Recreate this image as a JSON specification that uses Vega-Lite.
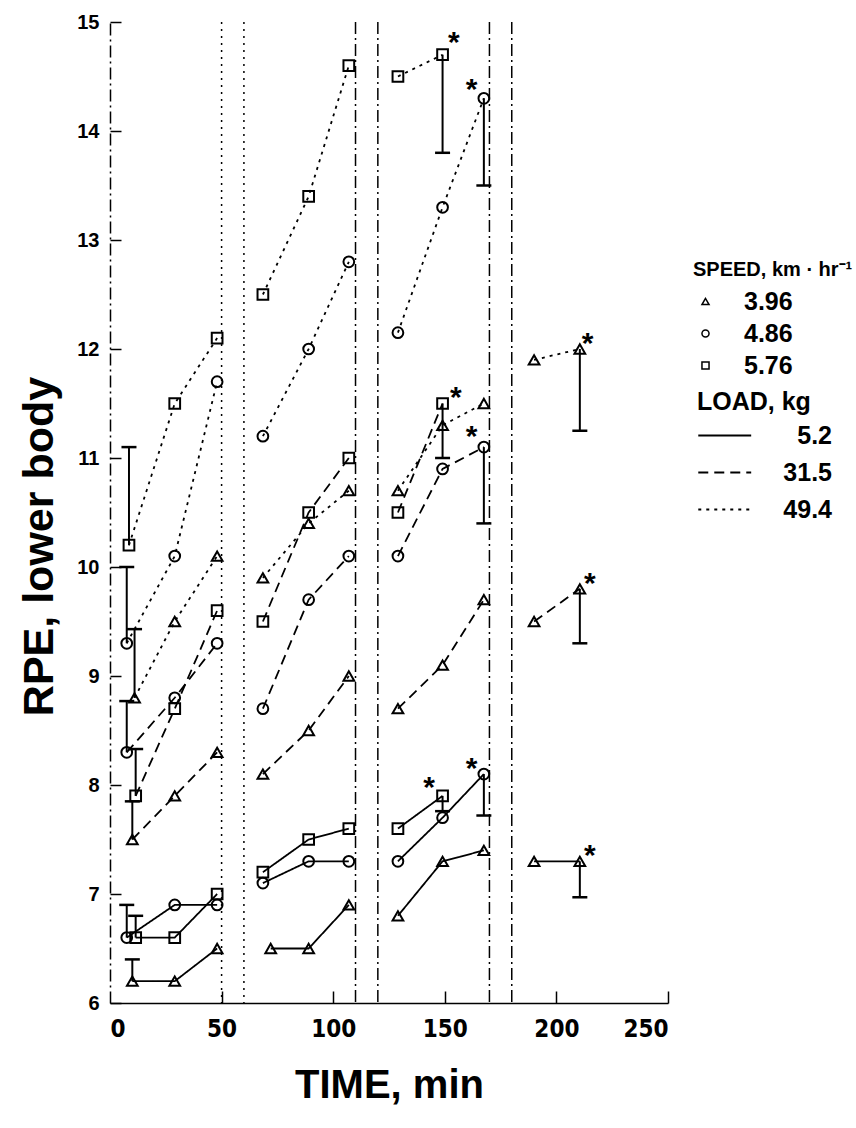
{
  "$schema": "https://vega.github.io/schema/vega-lite/v6.json",
  "width": 558,
  "height": 981,
  "autosize": {"type": "none"},
  "padding": {"left": 110, "top": 22, "right": 188, "bottom": 125},
  "background": "white",
  "config": {
    "view": {"stroke": null},
    "axis": {"grid": false, "domainColor": "black", "tickColor": "black", "labelColor": "black", "titleColor": "black"}
  },
  "resolve": {"axis": {"x": "independent", "y": "independent"}},
  "datasets": {
    "pts": [
      {"speed":"3.96","load":"5.2","bout":1,"t":10,"rpe":6.2},{"speed":"3.96","load":"5.2","bout":1,"t":29,"rpe":6.2},{"speed":"3.96","load":"5.2","bout":1,"t":48,"rpe":6.5},
      {"speed":"4.86","load":"5.2","bout":1,"t":7.5,"rpe":6.6},{"speed":"4.86","load":"5.2","bout":1,"t":29,"rpe":6.9},{"speed":"4.86","load":"5.2","bout":1,"t":48,"rpe":6.9},
      {"speed":"5.76","load":"5.2","bout":1,"t":11.5,"rpe":6.6},{"speed":"5.76","load":"5.2","bout":1,"t":29,"rpe":6.6},{"speed":"5.76","load":"5.2","bout":1,"t":48,"rpe":7.0},
      {"speed":"3.96","load":"5.2","bout":2,"t":72,"rpe":6.5},{"speed":"3.96","load":"5.2","bout":2,"t":89,"rpe":6.5},{"speed":"3.96","load":"5.2","bout":2,"t":107,"rpe":6.9},
      {"speed":"4.86","load":"5.2","bout":2,"t":68.5,"rpe":7.1},{"speed":"4.86","load":"5.2","bout":2,"t":89,"rpe":7.3},{"speed":"4.86","load":"5.2","bout":2,"t":107,"rpe":7.3},
      {"speed":"5.76","load":"5.2","bout":2,"t":68.5,"rpe":7.2},{"speed":"5.76","load":"5.2","bout":2,"t":89,"rpe":7.5},{"speed":"5.76","load":"5.2","bout":2,"t":107,"rpe":7.6},
      {"speed":"3.96","load":"5.2","bout":3,"t":129,"rpe":6.8},{"speed":"3.96","load":"5.2","bout":3,"t":149,"rpe":7.3},{"speed":"3.96","load":"5.2","bout":3,"t":167.5,"rpe":7.4},
      {"speed":"4.86","load":"5.2","bout":3,"t":129,"rpe":7.3},{"speed":"4.86","load":"5.2","bout":3,"t":149,"rpe":7.7},{"speed":"4.86","load":"5.2","bout":3,"t":167.5,"rpe":8.1},
      {"speed":"5.76","load":"5.2","bout":3,"t":129,"rpe":7.6},{"speed":"5.76","load":"5.2","bout":3,"t":149,"rpe":7.9},
      {"speed":"3.96","load":"5.2","bout":4,"t":190,"rpe":7.3},{"speed":"3.96","load":"5.2","bout":4,"t":210.5,"rpe":7.3},

      {"speed":"3.96","load":"31.5","bout":1,"t":10,"rpe":7.5},{"speed":"3.96","load":"31.5","bout":1,"t":29,"rpe":7.9},{"speed":"3.96","load":"31.5","bout":1,"t":48,"rpe":8.3},
      {"speed":"4.86","load":"31.5","bout":1,"t":7.5,"rpe":8.3},{"speed":"4.86","load":"31.5","bout":1,"t":29,"rpe":8.8},{"speed":"4.86","load":"31.5","bout":1,"t":48,"rpe":9.3},
      {"speed":"5.76","load":"31.5","bout":1,"t":11.5,"rpe":7.9},{"speed":"5.76","load":"31.5","bout":1,"t":29,"rpe":8.7},{"speed":"5.76","load":"31.5","bout":1,"t":48,"rpe":9.6},
      {"speed":"3.96","load":"31.5","bout":2,"t":68.5,"rpe":8.1},{"speed":"3.96","load":"31.5","bout":2,"t":89,"rpe":8.5},{"speed":"3.96","load":"31.5","bout":2,"t":107,"rpe":9.0},
      {"speed":"4.86","load":"31.5","bout":2,"t":68.5,"rpe":8.7},{"speed":"4.86","load":"31.5","bout":2,"t":89,"rpe":9.7},{"speed":"4.86","load":"31.5","bout":2,"t":107,"rpe":10.1},
      {"speed":"5.76","load":"31.5","bout":2,"t":68.5,"rpe":9.5},{"speed":"5.76","load":"31.5","bout":2,"t":89,"rpe":10.5},{"speed":"5.76","load":"31.5","bout":2,"t":107,"rpe":11.0},
      {"speed":"3.96","load":"31.5","bout":3,"t":129,"rpe":8.7},{"speed":"3.96","load":"31.5","bout":3,"t":149,"rpe":9.1},{"speed":"3.96","load":"31.5","bout":3,"t":167.5,"rpe":9.7},
      {"speed":"4.86","load":"31.5","bout":3,"t":129,"rpe":10.1},{"speed":"4.86","load":"31.5","bout":3,"t":149,"rpe":10.9},{"speed":"4.86","load":"31.5","bout":3,"t":167.5,"rpe":11.1},
      {"speed":"5.76","load":"31.5","bout":3,"t":129,"rpe":10.5},{"speed":"5.76","load":"31.5","bout":3,"t":149,"rpe":11.5},
      {"speed":"3.96","load":"31.5","bout":4,"t":190,"rpe":9.5},{"speed":"3.96","load":"31.5","bout":4,"t":210.5,"rpe":9.8},

      {"speed":"3.96","load":"49.4","bout":1,"t":11,"rpe":8.8},{"speed":"3.96","load":"49.4","bout":1,"t":29,"rpe":9.5},{"speed":"3.96","load":"49.4","bout":1,"t":48,"rpe":10.1},
      {"speed":"4.86","load":"49.4","bout":1,"t":7.5,"rpe":9.3},{"speed":"4.86","load":"49.4","bout":1,"t":29,"rpe":10.1},{"speed":"4.86","load":"49.4","bout":1,"t":48,"rpe":11.7},
      {"speed":"5.76","load":"49.4","bout":1,"t":8.5,"rpe":10.2},{"speed":"5.76","load":"49.4","bout":1,"t":29,"rpe":11.5},{"speed":"5.76","load":"49.4","bout":1,"t":48,"rpe":12.1},
      {"speed":"3.96","load":"49.4","bout":2,"t":68.5,"rpe":9.9},{"speed":"3.96","load":"49.4","bout":2,"t":89,"rpe":10.4},{"speed":"3.96","load":"49.4","bout":2,"t":107,"rpe":10.7},
      {"speed":"4.86","load":"49.4","bout":2,"t":68.5,"rpe":11.2},{"speed":"4.86","load":"49.4","bout":2,"t":89,"rpe":12.0},{"speed":"4.86","load":"49.4","bout":2,"t":107,"rpe":12.8},
      {"speed":"5.76","load":"49.4","bout":2,"t":68.5,"rpe":12.5},{"speed":"5.76","load":"49.4","bout":2,"t":89,"rpe":13.4},{"speed":"5.76","load":"49.4","bout":2,"t":107,"rpe":14.6},
      {"speed":"3.96","load":"49.4","bout":3,"t":129,"rpe":10.7},{"speed":"3.96","load":"49.4","bout":3,"t":149,"rpe":11.3},{"speed":"3.96","load":"49.4","bout":3,"t":167.5,"rpe":11.5},
      {"speed":"4.86","load":"49.4","bout":3,"t":129,"rpe":12.15},{"speed":"4.86","load":"49.4","bout":3,"t":149,"rpe":13.3},{"speed":"4.86","load":"49.4","bout":3,"t":167.5,"rpe":14.3},
      {"speed":"5.76","load":"49.4","bout":3,"t":129,"rpe":14.5},{"speed":"5.76","load":"49.4","bout":3,"t":149,"rpe":14.7},
      {"speed":"3.96","load":"49.4","bout":4,"t":190,"rpe":11.9},{"speed":"3.96","load":"49.4","bout":4,"t":210.5,"rpe":12.0}
    ],
    "errs": [
      {"speed":"3.96","load":"5.2","t":10,"rpe":6.2,"err":6.4},
      {"speed":"4.86","load":"5.2","t":7.5,"rpe":6.6,"err":6.9},
      {"speed":"5.76","load":"5.2","t":11.5,"rpe":6.6,"err":6.8},
      {"speed":"4.86","load":"5.2","t":167.5,"rpe":8.1,"err":7.72},
      {"speed":"5.76","load":"5.2","t":149,"rpe":7.9,"err":7.76},
      {"speed":"3.96","load":"5.2","t":210.5,"rpe":7.3,"err":6.97},
      {"speed":"3.96","load":"31.5","t":10,"rpe":7.5,"err":7.85},
      {"speed":"4.86","load":"31.5","t":7.5,"rpe":8.3,"err":8.77},
      {"speed":"5.76","load":"31.5","t":11.5,"rpe":7.9,"err":8.33},
      {"speed":"4.86","load":"31.5","t":167.5,"rpe":11.1,"err":10.4},
      {"speed":"5.76","load":"31.5","t":149,"rpe":11.5,"err":11.0},
      {"speed":"3.96","load":"31.5","t":210.5,"rpe":9.8,"err":9.3},
      {"speed":"3.96","load":"49.4","t":11,"rpe":8.8,"err":9.43},
      {"speed":"4.86","load":"49.4","t":7.5,"rpe":9.3,"err":10.0},
      {"speed":"5.76","load":"49.4","t":8.5,"rpe":10.2,"err":11.1},
      {"speed":"4.86","load":"49.4","t":167.5,"rpe":14.3,"err":13.5},
      {"speed":"5.76","load":"49.4","t":149,"rpe":14.7,"err":13.8},
      {"speed":"3.96","load":"49.4","t":210.5,"rpe":12.0,"err":11.25}
    ],
    "stars": [
      {"t":154,"rpe":14.88},{"t":162,"rpe":14.45},{"t":155,"rpe":11.62},{"t":162,"rpe":11.27},
      {"t":143,"rpe":8.05},{"t":162,"rpe":8.22},{"t":214,"rpe":12.12},{"t":215,"rpe":9.92},{"t":215,"rpe":7.42}
    ]
  },
  "layer": [
    {
      "data": {"values": [{"t": 50}, {"t": 60}]},
      "mark": {"type": "rule", "stroke": "black", "strokeWidth": 1.5, "strokeDash": [2, 5]},
      "encoding": {"x": {"field": "t", "type": "quantitative", "axis": null}}
    },
    {
      "data": {"values": [{"t": 110}, {"t": 120}, {"t": 170}, {"t": 180}]},
      "mark": {"type": "rule", "stroke": "black", "strokeWidth": 1.5, "strokeDash": [12, 4, 2, 4]},
      "encoding": {"x": {"field": "t", "type": "quantitative", "axis": null}}
    },
    {
      "data": {"name": "pts"},
      "mark": {"type": "line", "stroke": "black", "strokeWidth": 1.8},
      "encoding": {
        "x": {"field": "t", "type": "quantitative", "scale": {"domain": [0, 250], "nice": false, "zero": false},
          "axis": {"title": "TIME, min", "values": [0, 50, 100, 150, 200, 250], "ticks": false, "tickSize": 0, "domainWidth": 1.5,
            "labelFont": "DejaVu Sans Condensed, Liberation Sans", "labelFontWeight": "bold", "labelFontSize": 24, "labelPadding": 14,
            "titleFont": "Liberation Sans", "titleFontWeight": "bold", "titleFontSize": 40, "titlePadding": 24}},
        "y": {"field": "rpe", "type": "quantitative", "scale": {"domain": [6, 15], "nice": false, "zero": false},
          "axis": {"title": "RPE, lower body", "values": [6, 7, 8, 9, 10, 11, 12, 13, 14, 15], "format": "d", "ticks": false, "tickSize": 0, "domainWidth": 1.5, "domainDash": [12, 4, 2, 4],
            "labelFont": "Liberation Sans", "labelFontWeight": "bold", "labelFontSize": 20, "labelPadding": 11,
            "titleFont": "Liberation Sans", "titleFontWeight": "bold", "titleFontSize": 43, "titleX": -58, "titleY": 524, "titleBaseline": "alphabetic"}},
        "detail": [{"field": "bout", "type": "nominal"}, {"field": "speed", "type": "nominal"}],
        "strokeDash": {"field": "load", "type": "nominal",
          "scale": {"domain": ["5.2", "31.5", "49.4"], "range": [[1, 0], [10, 6], [3, 5]]},
          "legend": {"title": "LOAD, kg", "orient": "none", "legendX": 587, "legendY": 368,
            "symbolType": "M-1,0H3", "symbolSize": 700, "symbolStrokeWidth": 1.8, "symbolStrokeColor": "black", "symbolFillColor": "transparent",
            "labelFont": "Liberation Sans", "labelFontWeight": "bold", "labelFontSize": 25, "labelColor": "black", "labelOffset": 106, "labelAlign": "right",
            "titleFont": "Liberation Sans", "titleFontWeight": "bold", "titleFontSize": 25, "titleColor": "black", "titlePadding": 6, "rowPadding": 9}}
      }
    },
    {
      "data": {"name": "errs"},
      "mark": {"type": "rule", "stroke": "black", "strokeWidth": 2},
      "encoding": {
        "x": {"field": "t", "type": "quantitative", "axis": null},
        "y": {"field": "rpe", "type": "quantitative", "axis": null},
        "y2": {"field": "err"}
      }
    },
    {
      "data": {"name": "errs"},
      "mark": {"type": "tick", "orient": "horizontal", "color": "black", "size": 15, "thickness": 2.5, "opacity": 1},
      "encoding": {
        "x": {"field": "t", "type": "quantitative",
          "axis": {"orient": "top", "offset": -981, "title": null, "labels": false, "domain": false, "ticks": true, "tickSize": 12, "tickWidth": 1.5, "values": [50, 100, 150, 200, 250]}},
        "y": {"field": "err", "type": "quantitative",
          "axis": {"orient": "right", "offset": -558, "title": null, "labels": false, "domain": false, "ticks": true, "tickSize": 11, "tickWidth": 1.5, "values": [6, 7, 8, 9, 10, 11, 12, 13, 14, 15]}}
      }
    },
    {
      "data": {"name": "pts"},
      "mark": {"type": "point", "filled": false, "color": "black", "stroke": "black", "strokeWidth": 2, "size": 115, "opacity": 1},
      "encoding": {
        "x": {"field": "t", "type": "quantitative", "axis": null},
        "y": {"field": "rpe", "type": "quantitative", "axis": null},
        "shape": {"field": "speed", "type": "nominal",
          "scale": {"domain": ["3.96", "4.86", "5.76"], "range": ["triangle-up", "circle", "square"]},
          "legend": {"title": "SPEED, km · hr⁻¹", "orient": "none", "legendX": 583, "legendY": 238, "titleLimit": 300,
            "symbolSize": 50, "symbolStrokeWidth": 1.5, "symbolStrokeColor": "black", "symbolOpacity": 1,
            "labelFont": "Liberation Sans", "labelFontWeight": "bold", "labelFontSize": 25, "labelColor": "black", "labelOffset": 26,
            "titleFont": "Liberation Sans", "titleFontWeight": "bold", "titleFontSize": 20, "titleColor": "black", "titlePadding": 9, "rowPadding": 6}}
      }
    },
    {
      "data": {"name": "stars"},
      "mark": {"type": "text", "text": "*", "font": "Liberation Sans", "fontWeight": "bold", "fontSize": 30, "baseline": "middle", "align": "center", "dy": 8, "color": "black"},
      "encoding": {
        "x": {"field": "t", "type": "quantitative", "axis": null},
        "y": {"field": "rpe", "type": "quantitative", "axis": null}
      }
    }
  ]
}
